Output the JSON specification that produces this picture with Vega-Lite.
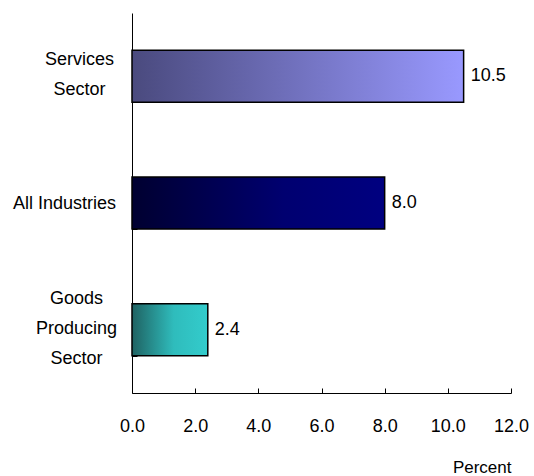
{
  "$schema": "https://vega.github.io/schema/vega-lite/v6.json",
  "autosize": "none",
  "width": 379,
  "height": 380,
  "padding": {"left": 132, "top": 13, "right": 23, "bottom": 83},
  "background": "white",
  "config": {
    "view": {"stroke": null},
    "font": "Liberation Sans",
    "axis": {"labelFont": "Liberation Sans", "titleFont": "Liberation Sans", "labelColor": "black", "titleColor": "black", "domainColor": "black", "tickColor": "black", "grid": false}
  },
  "data": {
    "values": [
      {"sector": "Services Sector", "percent": 10.5},
      {"sector": "All Industries", "percent": 8.0},
      {"sector": "Goods Producing Sector", "percent": 2.4}
    ]
  },
  "encoding": {
    "y": {
      "field": "sector",
      "type": "nominal",
      "sort": null,
      "scale": {"paddingInner": 0.59, "paddingOuter": 0.295},
      "axis": {
        "title": null,
        "tickBand": "extent",
        "tickSize": -5,
        "domainWidth": 1,
        "labelFontSize": 18,
        "labelAlign": "center",
        "labelBaseline": "middle",
        "labelLineHeight": 30,
        "labelPadding": {"condition": [
          {"test": "datum.value === 'All Industries'", "value": 73},
          {"test": "datum.value === 'Services Sector'", "value": 58}
        ], "value": 61},
        "labelOffset": {"condition": [
          {"test": "datum.value === 'Services Sector'", "value": -17},
          {"test": "datum.value === 'Goods Producing Sector'", "value": -31}
        ], "value": 0},
        "labelExpr": "datum.value == 'Services Sector' ? ['Services','Sector'] : datum.value == 'Goods Producing Sector' ? ['Goods','Producing','Sector'] : datum.value"
      }
    },
    "x": {
      "field": "percent",
      "type": "quantitative",
      "scale": {"domain": [0, 12], "nice": false},
      "axis": {
        "title": "Percent",
        "values": [0, 2, 4, 6, 8, 10, 12],
        "format": ".1f",
        "tickSize": -5,
        "labelFontSize": 18,
        "labelPadding": 29,
        "labelFlush": false,
        "titleFontSize": 17,
        "titleFontWeight": "normal",
        "titleAnchor": "end",
        "titleAlign": "right",
        "titleBaseline": "alphabetic",
        "titleX": 379,
        "titleY": 79
      }
    }
  },
  "layer": [
    {
      "transform": [{"filter": "datum.sector === 'Services Sector'"}],
      "mark": {"type": "bar", "stroke": "black", "strokeWidth": 1.5,
        "fill": {"gradient": "linear", "x1": 0, "y1": 0, "x2": 1, "y2": 0,
          "stops": [{"offset": 0, "color": "#4a4a7e"}, {"offset": 1, "color": "#9999ff"}]}}
    },
    {
      "transform": [{"filter": "datum.sector === 'All Industries'"}],
      "mark": {"type": "bar", "stroke": "black", "strokeWidth": 1.5,
        "fill": {"gradient": "linear", "x1": 0, "y1": 0, "x2": 1, "y2": 0,
          "stops": [{"offset": 0, "color": "#000030"}, {"offset": 0.6, "color": "#000070"}, {"offset": 1, "color": "#000080"}]}}
    },
    {
      "transform": [{"filter": "datum.sector === 'Goods Producing Sector'"}],
      "mark": {"type": "bar", "stroke": "black", "strokeWidth": 1.5,
        "fill": {"gradient": "linear", "x1": 0, "y1": 0, "x2": 1, "y2": 0,
          "stops": [{"offset": 0, "color": "#1f6262"}, {"offset": 0.55, "color": "#2fbcbc"}, {"offset": 1, "color": "#33cccc"}]}}
    },
    {
      "mark": {"type": "text", "align": "left", "baseline": "middle", "dx": 7, "fontSize": 18, "font": "Liberation Sans", "color": "black"},
      "encoding": {"text": {"field": "percent", "type": "quantitative", "format": ".1f"}}
    }
  ]
}
